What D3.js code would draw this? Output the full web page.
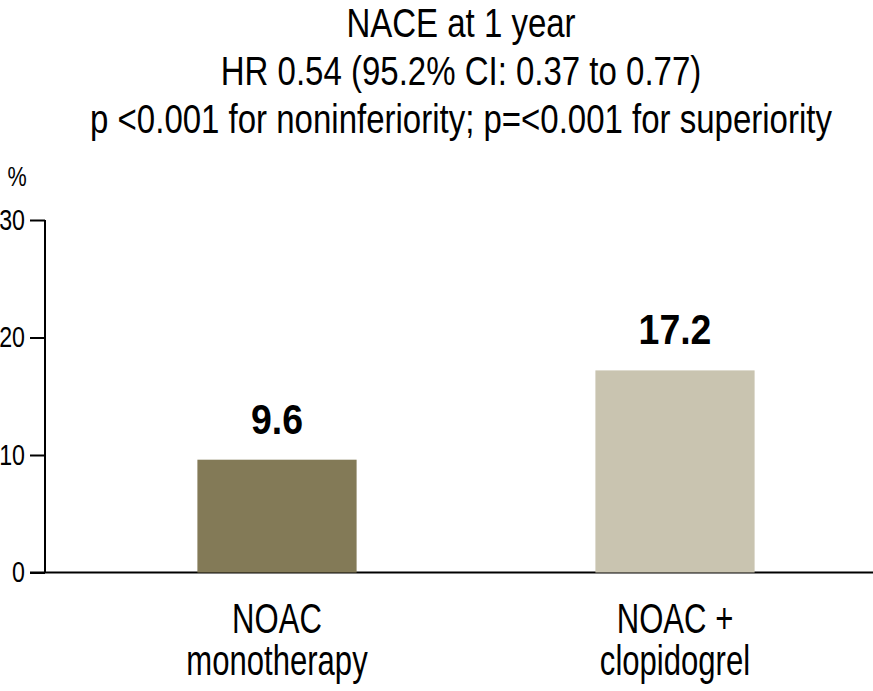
<!DOCTYPE html>
<html>
<head>
<meta charset="utf-8">
<script src="https://cdn.jsdelivr.net/npm/d3@7"></script>
<style>
  body { margin: 0; background: #fff; }
  svg text { font-family: "Liberation Sans", Arial, sans-serif; fill: #000; }
</style>
</head>
<body>
<div id="chart"></div>
<script>
const categories = [['NOAC', 'monotherapy'], ['NOAC +', 'clopidogrel']];
const values = [9.6, 17.2];
const colors = ['#837a57', '#c9c4b0'];
const yTicks = [0, 10, 20, 30];
const titleLines = [
    'NACE at 1 year',
    'HR 0.54 (95.2% CI: 0.37 to 0.77)',
    'p <0.001 for noninferiority; p=<0.001 for superiority',
];

const Width = 873;
const Height = 691;
const Margin = { top: 220, right: 0, bottom: 118.5, left: 45 };
// the reference face is a condensed one, so squeeze Liberation Sans sideways
const Squeeze = { title: 0.805, label: 0.74, value: 0.87, tick: 0.8 };

function squeeze(selection, k) {
    selection.each(function () {
        const t = d3.select(this);
        const x = +t.attr('x') || 0;
        const y = +t.attr('y') || 0;
        t.attr('transform', `translate(${x},${y}) scale(${k},1)`)
            .attr('x', 0)
            .attr('y', 0);
    });
}

const svg = d3.select('#chart')
    .append('svg')
    .attr('width', Width)
    .attr('height', Height);

const x = d3.scaleBand()
    .domain(d3.range(values.length))
    .range([78, 874])
    .paddingInner(0.6)
    .paddingOuter(0.3);

const y = d3.scaleLinear()
    .domain([0, 30])
    .range([Height - Margin.bottom, Margin.top]);

// Title
svg.append('g')
    .selectAll('text')
    .data(titleLines)
    .join('text')
    .attr('x', 461)
    .attr('y', (d, i) => 37 + i * 48)
    .attr('text-anchor', 'middle')
    .style('font-size', '41px')
    .text(d => d)
    .call(squeeze, Squeeze.title);

// Y axis
const yAxis = svg.append('g')
    .attr('transform', `translate(${Margin.left},0)`)
    .call(d3.axisLeft(y).tickValues(yTicks).tickSize(15).tickPadding(5));
yAxis.select('.domain').attr('d', `M0,${y(30)}V${y(0)}`).attr('stroke-width', 2);
yAxis.selectAll('.tick line').attr('stroke-width', 2);
yAxis.selectAll('.tick text')
    .style('font-size', '29px')
    .call(squeeze, Squeeze.tick);

svg.append('text')
    .attr('x', 17)
    .attr('y', 186)
    .attr('text-anchor', 'middle')
    .style('font-size', '27px')
    .text('%')
    .call(squeeze, Squeeze.tick);

// Baseline
svg.append('line')
    .attr('x1', Margin.left - 15)
    .attr('x2', Width)
    .attr('y1', y(0))
    .attr('y2', y(0))
    .attr('stroke', '#000')
    .attr('stroke-width', 2);

// Bars
svg.append('g')
    .selectAll('rect')
    .data(values)
    .join('rect')
    .attr('x', (d, i) => x(i))
    .attr('width', x.bandwidth())
    .attr('y', d => y(d))
    .attr('height', d => y(0) - y(d))
    .attr('fill', (d, i) => colors[i]);

// Value labels
svg.append('g')
    .selectAll('text')
    .data(values)
    .join('text')
    .attr('x', (d, i) => x(i) + x.bandwidth() / 2)
    .attr('y', d => y(d) - 26)
    .attr('text-anchor', 'middle')
    .style('font-size', '43px')
    .style('font-weight', 'bold')
    .text(d => d.toFixed(1))
    .call(squeeze, Squeeze.value);

// Category labels, two lines each
const catLines = categories.flatMap((lines, i) => lines.map((t, j) => ({ t, i, j })));
svg.append('g')
    .selectAll('text')
    .data(catLines)
    .join('text')
    .attr('x', d => x(d.i) + x.bandwidth() / 2)
    .attr('y', d => 633 + d.j * 42)
    .attr('text-anchor', 'middle')
    .style('font-size', '42px')
    .text(d => d.t)
    .call(squeeze, Squeeze.label);
</script>
</body>
</html>
